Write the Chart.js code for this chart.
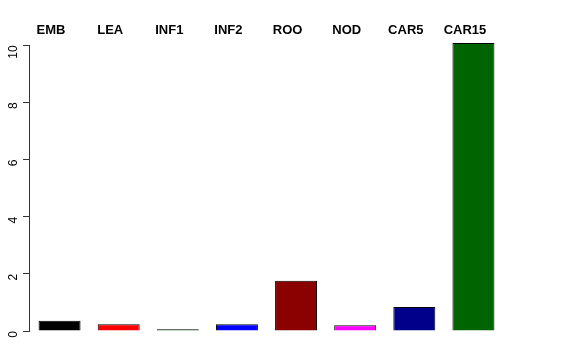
<!DOCTYPE html>
<html>
<head>
<meta charset="utf-8">
<script src="https://cdn.jsdelivr.net/npm/chart.js@4"></script>
<style>
  html, body { margin: 0; padding: 0; background: #fff; }
  #wrap { width: 576px; height: 360px; }
</style>
</head>
<body>
<div id="wrap"><canvas id="barChart" width="576" height="360"></canvas></div>
<script>
// Данные графика
const categories = ['EMB', 'LEA', 'INF1', 'INF2', 'ROO', 'NOD', 'CAR5', 'CAR15'];
const values = [0.36, 0.24, 0.06, 0.24, 1.76, 0.2, 0.84, 10.08];
const yTicks = [0, 2, 4, 6, 8, 10];

// Цвета столбцов
const barColors = ['#000000', '#FF0000', '#006400', '#0000FF', '#8B0000', '#FF00FF', '#00008B', '#006400'];

// Линия оси Y только от 0 до 10, как в R
const axisLine = {
    id: 'axisLine',
    afterDraw(chart) {
        const y = chart.scales.y;
        const ctx = chart.ctx;
        const x = chart.chartArea.left - 0.5;
        ctx.save();
        ctx.strokeStyle = '#333';
        ctx.lineWidth = 1;
        ctx.beginPath();
        ctx.moveTo(x, y.getPixelForValue(yTicks[0]));
        ctx.lineTo(x, y.getPixelForValue(yTicks[yTicks.length - 1]));
        ctx.stroke();
        ctx.restore();
    }
};

let ctx = document.getElementById('barChart').getContext('2d');
let barChart = new Chart(ctx, {
    type: 'bar',
    data: {
        labels: categories,
        datasets: [{
            data: values,
            backgroundColor: barColors,
            borderColor: '#000',
            borderWidth: 1,
            barPercentage: 0.71,
            categoryPercentage: 1
        }]
    },
    options: {
        responsive: false,
        animation: false,
        layout: { padding: { left: 0, right: 73, top: 0, bottom: 29 } },
        plugins: { legend: { display: false }, tooltip: { enabled: false } },
        scales: {
            x: {
                position: 'top',
                grid: { display: false },
                border: { display: false },
                ticks: {
                    color: '#000',
                    padding: -3,
                    labelOffset: -8.5,
                    maxRotation: 0,
                    font: { family: 'Liberation Sans, Arial, sans-serif', size: 13, weight: 'bold' }
                },
                afterFit(scale) { scale.height = 43; }
            },
            y: {
                min: 0,
                max: 10.08,
                grid: { drawOnChartArea: false, drawTicks: true, tickLength: 7, color: '#333' },
                border: { display: false },
                afterBuildTicks(scale) { scale.ticks = yTicks.map(v => ({ value: v })); },
                ticks: {
                    color: '#000',
                    padding: 9,
                    minRotation: 90,
                    maxRotation: 90,
                    font: { family: 'Liberation Sans, Arial, sans-serif', size: 12 }
                },
                afterFit(scale) { scale.width = 30; }
            }
        }
    },
    plugins: [axisLine]
});
</script>
</body>
</html>
